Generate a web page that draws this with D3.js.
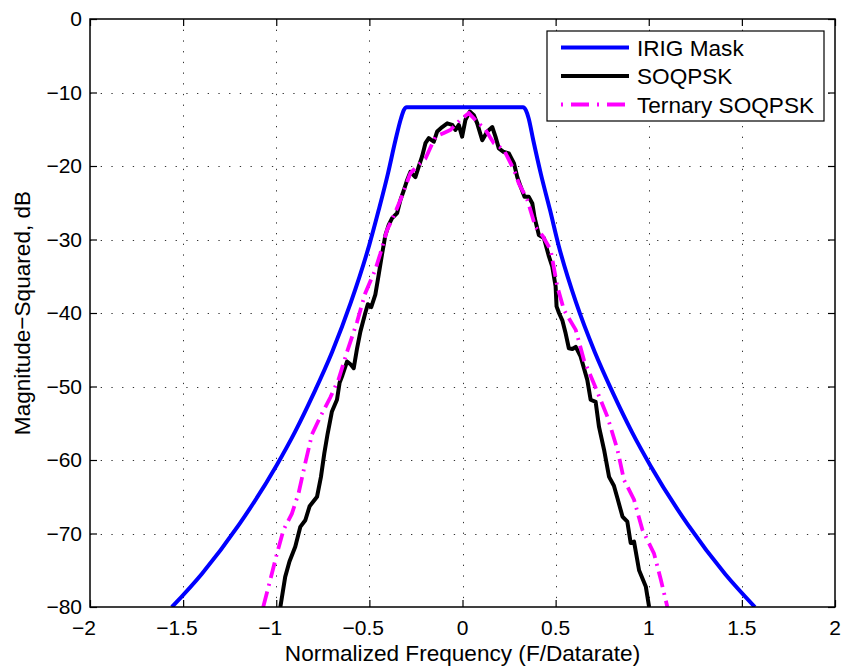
<!DOCTYPE html>
<html>
<head>
<meta charset="utf-8">
<script src="https://cdn.jsdelivr.net/npm/d3@7/dist/d3.min.js"></script>
<style>
  html, body { margin: 0; padding: 0; background: #fff; }
  svg { display: block; }
  text { font-family: "Liberation Sans", Arial, Helvetica, sans-serif; fill: #000; }
</style>
</head>
<body>
<svg id="chart" width="841" height="667"></svg>
<script>
// ---------------- DATA ----------------
const xTicks = [-2, -1.5, -1, -0.5, 0, 0.5, 1, 1.5, 2];
const yTicks = [0, -10, -20, -30, -40, -50, -60, -70, -80];
const xLabel = "Normalized Frequency (F/Datarate)";
const yLabel = "Magnitude\u2212Squared, dB";
const seriesNames = ["IRIG Mask", "SOQPSK", "Ternary SOQPSK"];

// IRIG mask (normalized frequency, dB)
const maskF  = [-1.56, -1.4, -1.2, -1.0, -0.9, -0.8, -0.7, -0.6, -0.5, -0.45, -0.4, -0.36, -0.33, -0.315, -0.3,
                 0.325, 0.34, 0.355, 0.38, 0.42, 0.47, 0.515, 0.61, 0.71, 0.81, 0.91, 1.01, 1.21, 1.41, 1.57];
const maskDb = [-80, -75.5, -68.8, -60.8, -56.2, -51, -45.3, -38.6, -30.7, -26, -21, -16.5, -13.5, -12.4, -12,
                -12, -12.4, -13.5, -16.5, -21, -26, -30.7, -38.6, -45.3, -51, -56.2, -60.8, -68.8, -75.5, -80];

// SOQPSK spectrum
const soqF = [-0.978, -0.952, -0.929, -0.898, -0.871, -0.844, -0.821, -0.781, -0.760, -0.742, -0.724, -0.701, -0.674, -0.660,
              -0.645, -0.620, -0.600, -0.584, -0.566, -0.548, -0.522, -0.508, -0.490, -0.468, -0.450, -0.432, -0.414, -0.396,
              -0.378, -0.351, -0.333, -0.315, -0.297, -0.280, -0.253, -0.235, -0.217, -0.199, -0.181, -0.154, -0.136, -0.109,
              -0.082, -0.055, -0.038, -0.020, -0.002, 0.016, 0.039, 0.061, 0.079, 0.106, 0.133, 0.160, 0.177, 0.195, 0.222,
              0.249, 0.276, 0.294, 0.312, 0.333, 0.356, 0.375, 0.387, 0.410, 0.437, 0.464, 0.482, 0.500, 0.505, 0.518, 0.536,
              0.554, 0.571, 0.590, 0.608, 0.634, 0.652, 0.670, 0.688, 0.715, 0.733, 0.760, 0.787, 0.813, 0.832, 0.859, 0.885,
              0.903, 0.921, 0.948, 0.984, 1.002];
const soqDb = [-80, -75.9, -73.8, -71.8, -69.1, -68.2, -66.3, -65.0, -62.3, -59.1, -56.4, -53.4, -51.8, -49.5,
               -48.5, -46.6, -47.0, -47.5, -44.8, -42.5, -40.0, -38.8, -39.2, -37.5, -34.8, -32.0, -29.4, -28.0,
               -27.1, -26.4, -24.6, -23.3, -21.9, -20.8, -21.5, -20.1, -18.7, -16.9, -16.2, -16.7, -15.3, -14.7,
               -14.2, -14.4, -15.1, -14.4, -16.0, -13.7, -12.6, -13.1, -14.2, -16.5, -15.3, -14.7, -16.0, -17.6, -18.1,
               -18.3, -19.6, -21.5, -22.8, -24.2, -24.2, -25.1, -27.0, -29.4, -29.8, -32.3, -33.7, -36.4, -39.1, -40.0, -41.0,
               -42.8, -44.8, -44.9, -44.6, -45.9, -47.5, -49.1, -51.8, -52.1, -55.5, -58.6, -62.3, -63.5, -65.2, -67.7, -68.4,
               -71.3, -71.1, -75.0, -77.2, -80];

// Ternary SOQPSK spectrum
const terF = [-1.07, -1.032, -0.996, -0.961, -0.916, -0.880, -0.844, -0.808, -0.763, -0.710, -0.665, -0.620, -0.566, -0.522,
              -0.468, -0.441, -0.405, -0.378, -0.333, -0.280, -0.235, -0.199, -0.145, -0.100, -0.065, -0.011, 0.034, 0.079,
              0.124, 0.168, 0.222, 0.276, 0.303, 0.348, 0.392, 0.430, 0.473, 0.509, 0.545, 0.608, 0.652, 0.712, 0.778, 0.832,
              0.867, 0.921, 0.966, 1.028, 1.065, 1.10];
const terDb = [-80, -76.3, -72.7, -69.5, -67.3, -64.5, -60.4, -56.5, -54.1, -51.5, -49.0, -45.3, -41.2, -37.3,
               -34.1, -31.9, -28.7, -27.3, -24.6, -21.0, -19.8, -19.0, -16.0, -15.5, -15.1, -13.7, -12.8, -14.0,
               -15.1, -16.9, -17.8, -20.5, -22.4, -24.6, -28.3, -29.5, -31.4, -36.4, -39.6, -42.3, -46.4, -50.0, -54.1, -58.6,
               -62.7, -65.4, -69.5, -72.7, -76.3, -80];

// ---------------- DRAW ----------------
const svg = d3.select("#chart");
const L = 90, R = 835, T = 19, B = 607;
const x = d3.scaleLinear().domain([-2, 2]).range([L, R]);
const y = d3.scaleLinear().domain([-80, 0]).range([B, T]);

// grid
const grid = svg.append("g").attr("stroke", "#333").attr("stroke-width", 1).attr("stroke-dasharray", "1.3,9.4");
grid.selectAll(".gx").data(xTicks.slice(1, -1)).enter().append("line")
  .attr("x1", d => Math.round(x(d)) + 0.5).attr("x2", d => Math.round(x(d)) + 0.5)
  .attr("y1", T).attr("y2", B);
grid.selectAll(".gy").data(yTicks.slice(1, -1)).enter().append("line")
  .attr("y1", d => Math.round(y(d)) + 0.5).attr("y2", d => Math.round(y(d)) + 0.5)
  .attr("x1", L).attr("x2", R);

// ticks (inward, all four sides)
function styleAxis(g) {
  g.select(".domain").remove();
  g.selectAll(".tick line").attr("stroke", "#000").attr("stroke-width", 1.2);
  g.selectAll(".tick text").remove();
}
const tk = 7;
svg.append("g").attr("transform", `translate(0,${B})`)
  .call(d3.axisBottom(x).tickValues(xTicks).tickSizeInner(-tk).tickSizeOuter(0)).call(styleAxis);
svg.append("g").attr("transform", `translate(0,${T})`)
  .call(d3.axisTop(x).tickValues(xTicks).tickSizeInner(-tk).tickSizeOuter(0)).call(styleAxis);
svg.append("g").attr("transform", `translate(${L},0)`)
  .call(d3.axisLeft(y).tickValues(yTicks).tickSizeInner(-tk).tickSizeOuter(0)).call(styleAxis);
svg.append("g").attr("transform", `translate(${R},0)`)
  .call(d3.axisRight(y).tickValues(yTicks).tickSizeInner(-tk).tickSizeOuter(0)).call(styleAxis);

// clip
svg.append("clipPath").attr("id", "plotclip").append("rect")
  .attr("x", L).attr("y", T).attr("width", R - L).attr("height", B - T);

const line = d3.line().x(d => x(d[0])).y(d => y(d[1]));
const plot = svg.append("g").attr("clip-path", "url(#plotclip)");

const maskPts = maskF.map((f, i) => [f, maskDb[i]]);
const soqPts = soqF.map((f, i) => [f, soqDb[i]]);
const terPts = terF.map((f, i) => [f, terDb[i]]);

plot.append("path").attr("d", d3.line().x(d => x(d[0])).y(d => y(d[1])).curve(d3.curveMonotoneX)(maskPts))
  .attr("fill", "none").attr("stroke", "#0000ff").attr("stroke-width", 4).attr("stroke-linejoin", "round");
plot.append("path").attr("d", line(soqPts))
  .attr("fill", "none").attr("stroke", "#000").attr("stroke-width", 4).attr("stroke-linejoin", "round");
plot.append("path").attr("d", line(terPts))
  .attr("fill", "none").attr("stroke", "#ff00ff").attr("stroke-width", 3.8)
  .attr("stroke-dasharray", "16,6,2,6");

// axes box
svg.append("rect").attr("x", L).attr("y", T).attr("width", R - L).attr("height", B - T)
  .attr("fill", "none").attr("stroke", "#000").attr("stroke-width", 1.5);

// tick labels
const fs = 21;
xTicks.forEach(v => {
  const g = svg.append("g");
  const t = g.append("text").attr("x", x(v)).attr("y", 635).attr("text-anchor", "middle")
    .attr("font-size", fs).text(String(Math.abs(v)));
  if (v < 0) {
    const w = t.node().getComputedTextLength();
    g.append("text").attr("x", x(v) - w / 2).attr("y", 635).attr("text-anchor", "end")
      .attr("font-size", fs).text("\u2212");
  }
});
yTicks.forEach(v => {
  svg.append("text").attr("x", 82).attr("y", y(v) + 7).attr("text-anchor", "end")
    .attr("font-size", fs).text(v < 0 ? "\u2212" + Math.abs(v) : String(v));
});

// axis labels
svg.append("text").attr("x", (L + R) / 2).attr("y", 661).attr("text-anchor", "middle")
  .attr("font-size", 22.6).text(xLabel);
svg.append("text").attr("transform", `translate(30,${(T + B) / 2}) rotate(-90)`).attr("text-anchor", "middle")
  .attr("font-size", 22.6).text(yLabel);

// legend
const lg = svg.append("g");
lg.append("rect").attr("x", 547).attr("y", 31).attr("width", 277).attr("height", 90)
  .attr("fill", "#fff").attr("stroke", "#000").attr("stroke-width", 1.2);
const legStyles = [
  { c: "#0000ff", dash: null },
  { c: "#000", dash: null },
  { c: "#ff00ff", dash: "2,8,18,8" }
];
const legY = [47.5, 76, 104.5];
seriesNames.forEach((n, i) => {
  const l = lg.append("line").attr("x1", 561).attr("x2", 629).attr("y1", legY[i]).attr("y2", legY[i])
    .attr("stroke", legStyles[i].c).attr("stroke-width", 3.8);
  if (legStyles[i].dash) l.attr("stroke-dasharray", legStyles[i].dash);
  lg.append("text").attr("x", 637).attr("y", legY[i] + 8).attr("font-size", 22.6).text(n);
});
</script>
</body>
</html>
